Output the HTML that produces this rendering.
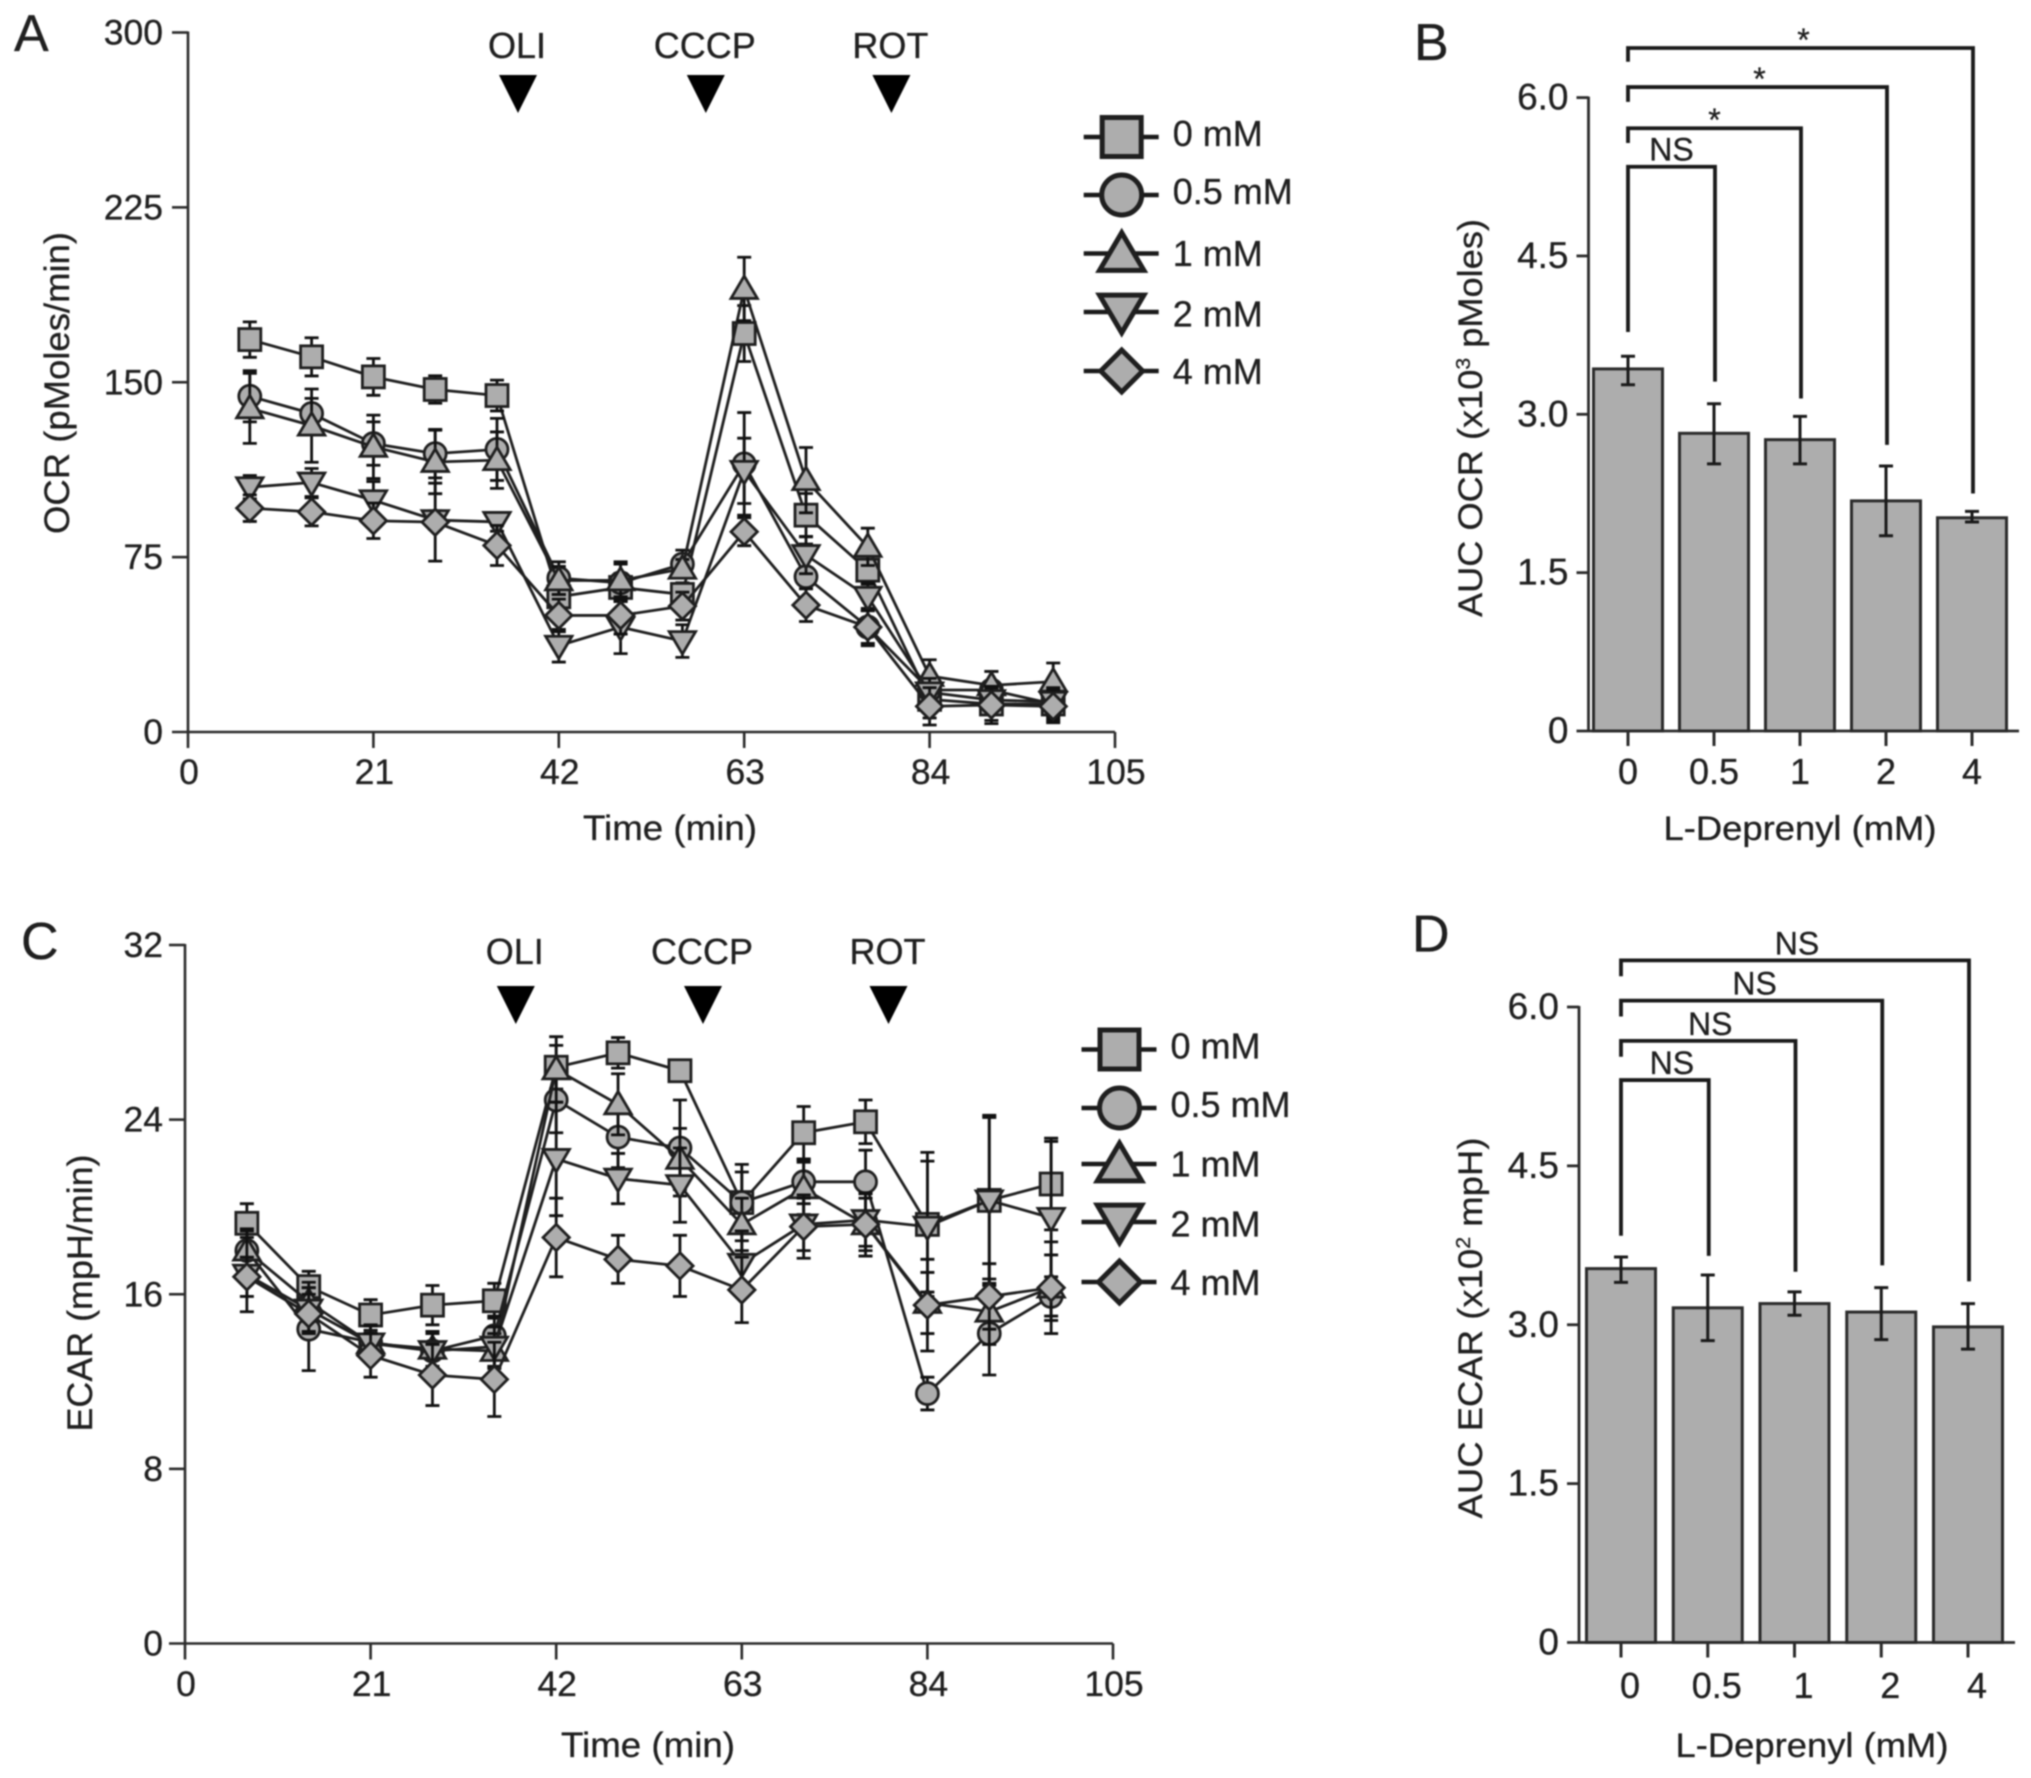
<!DOCTYPE html>
<html lang="en">
<head>
<meta charset="utf-8">
<title>OCR and ECAR with L-Deprenyl</title>
<style>
html,body{margin:0;padding:0;background:#fff;width:2031px;height:1778px;overflow:hidden}
svg{display:block;filter:blur(0.75px)}
text{font-family:"Liberation Sans",sans-serif;fill:#1f1f1f;stroke:#1f1f1f;stroke-width:0.3px}
</style>
</head>
<body>
<svg id="fig" xmlns="http://www.w3.org/2000/svg" width="2031" height="1778" viewBox="0 0 2031 1778"></svg>
<script>
// ---------- data: shared ----------
const seriesNames = ['0 mM', '0.5 mM', '1 mM', '2 mM', '4 mM'];
const seriesShapes = ['square', 'circle', 'triangle', 'down', 'diamond'];
const timePoints = [7, 14, 21, 28, 35, 42, 49, 56, 63, 70, 77, 84, 91, 98];
const timeTicks = [0, 21, 42, 63, 84, 105];
const drugLabels = ['OLI', 'CCCP', 'ROT'];
const doseLabels = ['0', '0.5', '1', '2', '4'];

// ---------- data: panel A (OCR) ----------
const ocrTicks = [0, 75, 150, 225, 300];
const ocr0 = [168.3, 160.9, 152.3, 146.9, 144.3, 58, 62, 59, 170.9, 93, 69.4, 14, 12, 12];
const ocr05 = [144, 136.6, 123.7, 119.4, 121.2, 66, 64, 72, 115, 66.6, 45, 18, 18, 12];
const ocr1 = [138.8, 131.4, 122.3, 115.8, 116.6, 65, 65, 70, 190, 108, 79.4, 24, 20, 21.6];
const ocr2 = [105, 107, 99.4, 90.9, 90.1, 37, 45, 39, 112, 75.9, 58, 17, 13.7, 13];
const ocr4 = [96, 94.4, 90.6, 90, 80, 50, 50, 54, 85.9, 54.4, 45, 11, 11.6, 11];
const ocr0Err = [7.6, 8.2, 7.9, 5.9, 6.6, 6, 6, 5, 12, 9.3, 6, 8, 7, 6];
const ocr05Err = [11, 6.5, 9.3, 10.4, 13.3, 7, 8, 6, 22, 14, 8, 7, 8, 7];
const ocr1Err = [15, 15.7, 13.6, 13.6, 12.1, 6, 8, 4, 13.6, 14, 8, 7, 6, 8];
const ocr2Err = [5, 6, 8, 4, 4, 7, 11.4, 7, 14, 8, 6, 6, 5, 6];
const ocr4Err = [5.7, 6, 7.6, 16.7, 8.6, 7, 8, 6, 6, 7, 7, 8, 8, 7];

// ---------- data: panel C (ECAR) ----------
const ecarTicks = [0, 8, 16, 24, 32];
const ecar0 = [19.25, 16.35, 15.05, 15.5, 15.7, 26.4, 27.06, 26.24, 20.2, 23.4, 23.9, 19.2, 20.3, 21.05];
const ecar05 = [18, 14.4, 13.8, 13.4, 14.1, 24.9, 23.2, 22.7, 20.2, 21.15, 21.15, 11.45, 14.2, 15.9];
const ecar1 = [18, 15.65, 13.75, 13.5, 13.4, 26.3, 24.7, 22.2, 19.2, 20.85, 19.2, 15.6, 15.2, 16.3];
const ecar2 = [16.9, 15.3, 13.75, 13.4, 13.6, 22.2, 21.3, 21, 17.4, 19.2, 19.4, 19.1, 20.3, 19.5];
const ecar4 = [16.8, 15.1, 13.2, 12.3, 12.1, 18.6, 17.6, 17.3, 16.2, 19.1, 19.2, 15.5, 15.9, 16.3];
const ecar0Err = [0.9, 0.7, 0.7, 0.9, 0.8, 1, 0.7, 0.4, 1.75, 1.2, 1, 3.3, 3.8, 2.1];
const ecar05Err = [0.9, 1.9, 0.8, 0.9, 0.9, 1.5, 1.4, 2.2, 1.4, 1, 1.45, 0.75, 1.9, 0.9];
const ecar1Err = [1, 0.9, 0.8, 0.8, 0.8, 1.5, 1.4, 1.4, 1.2, 1.2, 1.2, 1.4, 1.5, 1.5];
const ecar2Err = [1.7, 1, 0.8, 0.8, 0.9, 2.6, 1.15, 1.7, 1.5, 1.2, 1.2, 3, 3.9, 3.5];
const ecar4Err = [0.9, 0.9, 1, 1.4, 1.7, 1.8, 1.1, 1.4, 1.5, 1.45, 1.45, 2.1, 1.5, 2.1];

// ---------- data: panel B (AUC OCR) ----------
const aucTicks = ['0', '1.5', '3.0', '4.5', '6.0'];
const aucOcr = [3.43, 2.82, 2.76, 2.18, 2.02];
const aucOcrHigh = [3.55, 3.10, 2.98, 2.51, 2.08];
const aucOcrLow = [3.28, 2.53, 2.53, 1.85, 1.98];
const ocrBracketLabels = ['NS', '*', '*', '*'];
const ocrBracketLevels = [5.345, 5.71, 6.1, 6.47];
const ocrBracketLeftEnds = [3.78, 5.57, 5.96, 6.34];
const ocrBracketRightEnds = [3.31, 3.15, 2.71, 2.25];

// ---------- data: panel D (AUC ECAR) ----------
const aucEcar = [3.53, 3.16, 3.20, 3.12, 2.98];
const aucEcarHigh = [3.64, 3.47, 3.31, 3.35, 3.20];
const aucEcarLow = [3.40, 2.85, 3.09, 2.86, 2.77];
const ecarBracketLabels = ['NS', 'NS', 'NS', 'NS'];
const ecarBracketLevels = [5.31, 5.68, 6.06, 6.44];
const ecarBracketLeftEnds = [3.84, 5.53, 5.91, 6.29];
const ecarBracketRightEnds = [3.65, 3.5, 3.56, 3.41];

// ---------- helpers ----------
const NS = 'http://www.w3.org/2000/svg';
const INK = '#2b2b2b';
const FILL = '#adadad';
const root = document.getElementById('fig');

function make(parent, tag, attrs) {
  const el = document.createElementNS(NS, tag);
  for (const k in attrs) el.setAttribute(k, attrs[k]);
  parent.appendChild(el);
  return el;
}
function line(parent, x1, y1, x2, y2, w, color) {
  return make(parent, 'line', {x1: x1, y1: y1, x2: x2, y2: y2, stroke: color || INK, 'stroke-width': w});
}
function label(parent, x, y, str, size, anchor, fit) {
  const attrs = {x: x, y: y, 'font-size': size, 'text-anchor': anchor || 'middle'};
  if (fit) { attrs.textLength = fit; attrs.lengthAdjust = 'spacingAndGlyphs'; }
  const el = make(parent, 'text', attrs);
  el.textContent = str;
  return el;
}
function linearScale(d0, d1, r0, r1) {
  return function (v) { return r0 + (v - d0) * (r1 - r0) / (d1 - d0); };
}
function marker(parent, shape, x, y, s, sw) {
  // s = half-size of the symbol
  const style = {fill: FILL, stroke: '#1f1f1f', 'stroke-width': sw, 'stroke-linejoin': 'miter'};
  let el;
  if (shape === 'square') {
    el = make(parent, 'rect', Object.assign({x: x - s, y: y - s, width: 2 * s, height: 2 * s}, style));
  } else if (shape === 'circle') {
    el = make(parent, 'circle', Object.assign({cx: x, cy: y, r: s}, style));
  } else if (shape === 'triangle') {
    el = make(parent, 'polygon', Object.assign({points: [x, y - s * 1.18, x + s * 1.2, y + s * 0.86, x - s * 1.2, y + s * 0.86].join(' ')}, style));
  } else if (shape === 'down') {
    el = make(parent, 'polygon', Object.assign({points: [x, y + s * 1.18, x + s * 1.2, y - s * 0.86, x - s * 1.2, y - s * 0.86].join(' ')}, style));
  } else {
    el = make(parent, 'polygon', Object.assign({points: [x, y - s * 1.2, x + s * 1.2, y, x, y + s * 1.2, x - s * 1.2, y].join(' ')}, style));
  }
  return el;
}

// ---------- line panel (A, C) ----------
function drawLinePanel(cfg) {
  const g = make(root, 'g', {});
  
  
  const xs = linearScale(0, 105, cfg.x0, cfg.x1);
  const ys = linearScale(cfg.yTicks[0], cfg.yTicks[cfg.yTicks.length - 1], cfg.y0, cfg.y1);

  const letter = label(g, cfg.letterX, cfg.letterY, cfg.letter, 52, 'start');
  
  

  const yAxis = line(g, cfg.x0, cfg.y0 + 1, cfg.x0, cfg.y1 - 1, 2.6);
  
  
  const xAxis = line(g, cfg.x0 - 16, cfg.y0, cfg.x1, cfg.y0, 2.6);
  
  

  cfg.yTicks.forEach(function (v) {
    if (v !== cfg.yTicks[0]) {
      const t = line(g, cfg.x0 - 16, ys(v), cfg.x0, ys(v), 2.6);
      
      
    }
    const l = label(g, 163, ys(v) + 12, String(v), 35.5, 'end');
    
    
  });
  timeTicks.forEach(function (v) {
    const t = line(g, xs(v), cfg.y0, xs(v), cfg.y0 + 16, 2.6);
    
    
    const l = label(g, xs(v) + 1, cfg.tickBase, String(v), 35.5);
    
    
  });

  const xt = label(g, cfg.xTitleX, cfg.xTitleY, 'Time (min)', 35, 'middle', 174);
  
  
  const yt = label(g, 0, 0, cfg.yTitle, 35, 'middle', cfg.yTitleLen);
  yt.setAttribute('transform', 'translate(' + cfg.yTitleX + ',' + cfg.yTitleY + ') rotate(-90)');
  
  

  // drug injection arrows
  drugLabels.forEach(function (d, i) {
    const ax = cfg.arrowX[i];
    const t = label(g, ax - 1, cfg.arrowTextY, d, 36);
    
    
    const a = make(g, 'polygon', {points: [ax - 19, cfg.arrowTop, ax + 19, cfg.arrowTop, ax, cfg.arrowTop + 38].join(' '), fill: '#000'});
    
    
  });

  // series
  cfg.series.forEach(function (vals, si) {
    const sg = make(g, 'g', {});
    
    
    const pts = vals.map(function (v, i) { return xs(timePoints[i]) + ',' + ys(v); }).join(' ');
    const pl = make(sg, 'polyline', {points: pts, fill: 'none', stroke: '#1f1f1f', 'stroke-width': 2.8});
    
    
    vals.forEach(function (v, i) {
      const e = cfg.errors[si][i];
      const px = xs(timePoints[i]);
      const up = ys(v + e);
      const dn = ys(v - e);
      const bar = make(sg, 'path', {d: 'M' + (px - 7) + ' ' + up + 'H' + (px + 7) + 'M' + px + ' ' + up + 'V' + dn + 'M' + (px - 7) + ' ' + dn + 'H' + (px + 7), stroke: '#111', 'stroke-width': 2.8, fill: 'none'});
      
      
      const m = marker(sg, seriesShapes[si], px, ys(v), 11, 2.8);
      
      
    });
  });

  // legend
  seriesNames.forEach(function (n, i) {
    const lg = make(g, 'g', {});
    
    
    const ly = cfg.legendY[i];
    line(lg, cfg.legendX - 38, ly, cfg.legendX + 37, ly, 4.5, '#1a1a1a');
    const shapeY = seriesShapes[i] === 'triangle' ? ly + 1 : seriesShapes[i] === 'down' ? ly - 1 : ly;
    marker(lg, seriesShapes[i], cfg.legendX, shapeY, seriesShapes[i] === 'square' ? 19.5 : seriesShapes[i] === 'circle' ? 20 : seriesShapes[i] === 'diamond' ? 17.5 : 18.5, 5);
    const t = label(lg, cfg.legendX + 51, ly + cfg.legendTextDy[i], n, 36, 'start');
    
    
  });
}

// ---------- bar panel (B, D) ----------
function drawBarPanel(cfg) {
  const g = make(root, 'g', {});
  
  
  const ys = linearScale(0, 6, cfg.y0, cfg.y1);
  const catX = function (i) { return cfg.firstTick + i * cfg.step; };

  const letter = label(g, cfg.letterX, cfg.letterY, cfg.letter, 52, 'start');
  
  

  cfg.values.forEach(function (v, i) {
    const cx = catX(i);
    const bar = make(g, 'rect', {x: cx - 34.5, y: ys(v), width: 69, height: cfg.y0 - ys(v), fill: FILL, stroke: INK, 'stroke-width': 3});
    
    
    const hi = ys(cfg.high[i]);
    const lo = ys(cfg.low[i]);
    const err = make(g, 'path', {d: 'M' + (cx - 7) + ' ' + hi + 'H' + (cx + 7) + 'M' + cx + ' ' + hi + 'V' + lo + 'M' + (cx - 7) + ' ' + lo + 'H' + (cx + 7), stroke: '#1a1a1a', 'stroke-width': 3, fill: 'none'});
    
    
    const t = line(g, cx, cfg.y0, cx, cfg.y0 + 15, 3);
    
    
    const l = label(g, cx + cfg.labelShift, cfg.tickBase, doseLabels[i], 36);
    
    
  });

  const yAxis = line(g, cfg.axisX, cfg.y0, cfg.axisX, cfg.y1 - 1, 2.8);
  
  
  const xAxis = line(g, cfg.axisX - 12, cfg.y0, cfg.xEnd, cfg.y0, 2.8);
  
  

  aucTicks.forEach(function (v) {
    const py = ys(parseFloat(v));
    if (v !== '0') {
      const t = line(g, cfg.axisX - 12, py, cfg.axisX, py, 2.8);
      
      
    }
    const l = label(g, cfg.axisX - 20, py + 12, v, 37, 'end');
    
    
  });

  cfg.levels.forEach(function (lv, i) {
    const lx = catX(0);
    const rx = catX(i + 1) + 1;
    const br = make(g, 'path', {d: 'M' + lx + ' ' + ys(cfg.leftEnds[i]) + 'V' + ys(lv) + 'H' + rx + 'V' + ys(cfg.rightEnds[i]), fill: 'none', stroke: '#1a1a1a', 'stroke-width': 3.8});
    
    
    const isStar = cfg.labels[i] === '*';
    const t = label(g, (lx + rx) / 2 + cfg.bracketLabelShift[i], ys(lv) + (isStar ? 3 : -6), cfg.labels[i], isStar ? 32 : 32);
    
    
  });

  const xt = label(g, cfg.xTitleX, cfg.xTitleY, 'L-Deprenyl (mM)', 34, 'middle', 273);
  
  

  const yt = make(g, 'text', {'font-size': 34, 'text-anchor': 'middle', transform: 'translate(' + cfg.yTitleX + ',' + cfg.yTitleY + ') rotate(-90)', textLength: cfg.yTitleLen, lengthAdjust: 'spacingAndGlyphs'});
  
  
  yt.appendChild(document.createTextNode(cfg.yTitleA));
  const sup = make(yt, 'tspan', {'font-size': 20, dy: -12});
  sup.textContent = cfg.yTitleSup;
  const rest = make(yt, 'tspan', {'font-size': 34, dy: 12});
  rest.textContent = cfg.yTitleB;
}

// ---------- instantiate ----------
drawLinePanel({
  id: 'ocr', letter: 'A', letterX: 14, letterY: 51,
  x0: 188, x1: 1115, y0: 732, y1: 32.5, yTicks: ocrTicks, tickBase: 784,
  xTitleX: 670, xTitleY: 840, yTitle: 'OCR (pMoles/min)', yTitleX: 69, yTitleY: 383, yTitleLen: 302,
  arrowX: [518, 705.8, 891.4], arrowTop: 75, arrowTextY: 58,
  series: [ocr0, ocr05, ocr1, ocr2, ocr4],
  errors: [ocr0Err, ocr05Err, ocr1Err, ocr2Err, ocr4Err],
  legendX: 1121.7, legendY: [137, 195, 253.5, 312, 371], legendTextDy: [9, 9, 12.7, 14.3, 13]
});
drawLinePanel({
  id: 'ecar', letter: 'C', letterX: 21, letterY: 959,
  x0: 185, x1: 1113, y0: 1643.5, y1: 945, yTicks: ecarTicks, tickBase: 1696,
  xTitleX: 648, xTitleY: 1757, yTitle: 'ECAR (mpH/min)', yTitleX: 92, yTitleY: 1293, yTitleLen: 277,
  arrowX: [515.8, 703, 888.5], arrowTop: 986, arrowTextY: 964,
  series: [ecar0, ecar05, ecar1, ecar2, ecar4],
  errors: [ecar0Err, ecar05Err, ecar1Err, ecar2Err, ecar4Err],
  legendX: 1119.5, legendY: [1049.5, 1108, 1164, 1222, 1282], legendTextDy: [9, 9, 12.7, 14.3, 13]
});
drawBarPanel({
  id: 'auc-ocr', letter: 'B', letterX: 1414, letterY: 60,
  axisX: 1588.5, firstTick: 1628, step: 86, xEnd: 2019, y0: 731, y1: 97.6, tickBase: 784, labelShift: 0,
  bracketLabelShift: [0, 0, 2, 3],
  values: aucOcr, high: aucOcrHigh, low: aucOcrLow,
  labels: ocrBracketLabels, levels: ocrBracketLevels, leftEnds: ocrBracketLeftEnds, rightEnds: ocrBracketRightEnds,
  xTitleX: 1800, xTitleY: 840,
  yTitleA: 'AUC OCR (x10', yTitleSup: '3', yTitleB: ' pMoles)', yTitleX: 1482, yTitleY: 418, yTitleLen: 398
});
drawBarPanel({
  id: 'auc-ecar', letter: 'D', letterX: 1412, letterY: 951.5,
  axisX: 1579, firstTick: 1621, step: 86.75, xEnd: 2015, y0: 1642.5, y1: 1007, tickBase: 1698, labelShift: 9,
  bracketLabelShift: [7, 2, 3, 2],
  values: aucEcar, high: aucEcarHigh, low: aucEcarLow,
  labels: ecarBracketLabels, levels: ecarBracketLevels, leftEnds: ecarBracketLeftEnds, rightEnds: ecarBracketRightEnds,
  xTitleX: 1812, xTitleY: 1757,
  yTitleA: 'AUC ECAR (x10', yTitleSup: '2', yTitleB: ' mpH)', yTitleX: 1482, yTitleY: 1328, yTitleLen: 381
});
</script>
</body>
</html>
